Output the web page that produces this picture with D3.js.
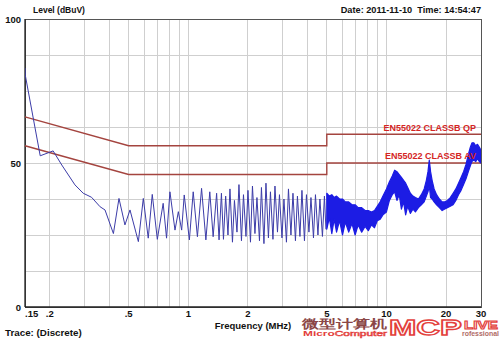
<!DOCTYPE html>
<html>
<head>
<meta charset="utf-8">
<script src="https://cdn.jsdelivr.net/npm/d3@7"></script>
<style>
  html, body { margin: 0; padding: 0; background: #fff; }
  svg { display: block; }
  text { font-family: "Liberation Sans", Arial, sans-serif; font-weight: bold; }
</style>
</head>
<body>
<svg id="chart" width="500" height="339"></svg>
<script>
// Axis ticks
const xTickValues = [0.15, 0.2, 0.5, 1, 2, 5, 10, 20, 30];
const xTickLabels = [".15", ".2", ".5", "1", "2", "5", "10", "20", "30"];
const xGridValues = [0.2, 0.3, 0.4, 0.5, 0.6, 0.7, 0.8, 0.9, 1, 2, 3, 4, 5, 6, 7, 8, 9, 10, 20];
const yTickValues = [0, 50, 100];
const yGridValues = [12.5, 25, 37.5, 50, 62.5, 75, 87.5];

// EN55022 Class B limits (MHz, dBuV)
const limitFreq = [0.15, 0.5, 5, 5, 30];
const qpLevel = [66, 56, 56, 60, 60];
const avLevel = [56, 46, 46, 50, 50];

// Measured trace, 0.15 - 5 MHz (MHz, dBuV)
const traceFreq = [0.150, 0.1505, 0.179, 0.208, 0.230, 0.268, 0.295, 0.325, 0.359, 0.380,
  0.419, 0.447, 0.479, 0.508, 0.560, 0.593, 0.628, 0.658, 0.698, 0.747,
  0.777, 0.808, 0.857, 0.891, 0.926, 0.954, 1.013, 1.059, 1.112, 1.167,
  1.227, 1.284, 1.335, 1.390, 1.430, 1.470, 1.505, 1.544, 1.586, 1.623,
  1.671, 1.710, 1.761, 1.802, 1.855, 1.899, 1.955, 2.001, 2.060, 2.108,
  2.170, 2.221, 2.287, 2.340, 2.409, 2.466, 2.538, 2.598, 2.675, 2.738,
  2.819, 2.885, 2.970, 3.039, 3.129, 3.203, 3.297, 3.375, 3.474, 3.555,
  3.660, 3.746, 3.857, 3.948, 4.064, 4.160, 4.283, 4.383, 4.512, 4.617,
  4.754, 4.865, 4.950];
const traceLevel = [83, 80.5, 52.5, 54.2, 49.3, 42.4, 39.5, 38.1, 34.8, 33.7,
  25.5, 37.7, 28.5, 33.7, 22.7, 37.7, 23.9, 39.1, 23.5, 36.0,
  23.9, 40.0, 26.7, 33.1, 26.7, 38.9, 23.3, 40.0, 24.4, 41.2,
  23.3, 40.0, 24.4, 39.5, 23.3, 39.5, 23.5, 38.5, 25, 41,
  22.5, 37, 26, 42.5, 23, 39, 24.5, 40.5, 22.5, 42,
  25.5, 38, 23, 41.5, 22, 43, 24, 40, 23.5, 42,
  26, 39, 24, 37.5, 22.5, 41, 25, 39.5, 23, 38.5,
  24.5, 40.5, 23, 39, 26, 38, 24, 39, 25, 37.5,
  24.5, 38.5, 27];

// Dense trace, 5 - 30 MHz: upper and lower extent of the sweep (MHz, dBuV)
const bandFreq = [5.0, 5.15, 5.3, 5.45, 5.6, 5.8, 6.0, 6.2, 6.45, 6.7,
  6.95, 7.2, 7.5, 7.8, 8.1, 8.4, 8.7, 9.0, 9.3, 9.6,
  10.0, 10.35, 10.7, 11.0, 11.3, 11.6, 11.9, 12.2, 12.5, 12.8,
  13.2, 13.6, 14.0, 14.5, 15.0, 15.5, 15.9, 16.2, 16.45, 16.7,
  17.0, 17.4, 17.9, 18.5, 19.1, 19.7, 20.3, 21.0, 21.7, 22.4,
  23.1, 23.8, 24.5, 25.2, 25.9, 26.5, 27.0, 27.6, 28.2, 28.8,
  29.4, 30];
const bandTop = [39.5, 38.5, 39, 38, 38.5, 37.5, 37.5, 36.5, 36.5, 35.5,
  35.5, 34.5, 34.5, 33.5, 33.5, 33, 33.5, 35, 36.5, 38.5,
  41, 43.5, 45.5, 47.5, 47, 46, 45, 44, 43, 41.5,
  39.5, 38.5, 38, 37.5, 39, 41, 44, 47, 51, 47,
  44, 41, 39, 37.5, 36.5, 36.5, 37, 38, 39.5, 41,
  43, 45, 47, 49.5, 53, 55.5, 57, 57, 56, 56.5,
  55.5, 54.5];
const bandBottom = [27, 31, 25.5, 30.5, 26, 30, 25, 29.5, 26, 29,
  25, 28.5, 26, 28, 26.5, 28.5, 27.5, 30, 30.5, 32,
  33, 37, 39, 40, 37, 39, 34, 36.5, 32, 35,
  32.5, 34, 33, 34.5, 35.5, 36.5, 38.5, 40, 42, 38,
  37.5, 36.5, 35.5, 34.5, 33.5, 34, 34.5, 35, 35.5, 37,
  39, 40.5, 42.5, 44.5, 47, 49, 50.5, 51, 50.5, 51.5,
  50.5, 50];

const svg = d3.select("#chart");
const plotLeft = 25, plotRight = 481, plotTop = 19, plotBottom = 307;

const x = d3.scaleLog().domain([0.15, 30]).range([plotLeft, plotRight]);
const y = d3.scaleLinear().domain([0, 100]).range([plotBottom, plotTop]);

// Grid
svg.append("g").selectAll("line").data(xGridValues).join("line")
  .attr("x1", d => x(d)).attr("x2", d => x(d))
  .attr("y1", plotTop).attr("y2", plotBottom)
  .attr("stroke", "#cfcfcf").attr("stroke-width", 1)
  .attr("shape-rendering", "crispEdges");
svg.append("g").selectAll("line").data(yGridValues).join("line")
  .attr("x1", plotLeft).attr("x2", plotRight)
  .attr("y1", d => y(d)).attr("y2", d => y(d))
  .attr("stroke", "#cfcfcf").attr("stroke-width", 1)
  .attr("shape-rendering", "crispEdges");

// Frame
svg.append("rect")
  .attr("x", plotLeft).attr("y", plotTop)
  .attr("width", plotRight - plotLeft).attr("height", plotBottom - plotTop)
  .attr("fill", "none").attr("stroke", "#555").attr("stroke-width", 1)
  .attr("shape-rendering", "crispEdges");
svg.append("line").attr("x1", plotLeft).attr("x2", plotLeft).attr("y1", plotTop).attr("y2", plotBottom)
  .attr("stroke", "#222").attr("stroke-width", 1.3);
svg.append("line").attr("x1", plotLeft).attr("x2", plotRight).attr("y1", plotBottom).attr("y2", plotBottom)
  .attr("stroke", "#222").attr("stroke-width", 1.3);

// Limit lines
const limitLine = d3.line().x(d => x(d[0])).y(d => y(d[1]));
[qpLevel, avLevel].forEach(levels => {
  svg.append("path")
    .attr("d", limitLine(limitFreq.map((f, i) => [f, levels[i]])))
    .attr("fill", "none").attr("stroke", "#a4443f").attr("stroke-width", 1.4);
});

// Trace
svg.append("clipPath").attr("id", "plot-clip")
  .append("rect").attr("x", plotLeft).attr("y", plotTop)
  .attr("width", plotRight - plotLeft).attr("height", plotBottom - plotTop);

const traceLine = d3.line().x(d => x(d[0])).y(d => y(d[1]));
svg.append("path")
  .attr("clip-path", "url(#plot-clip)")
  .attr("d", traceLine(traceFreq.map((f, i) => [f, traceLevel[i]])))
  .attr("fill", "none").attr("stroke", "#3c3ca8").attr("stroke-width", 1);

const bandArea = d3.area()
  .x(d => x(d[0])).y0(d => y(d[2])).y1(d => y(d[1]));
const bandData = bandFreq.map((f, i) => [f, bandTop[i], bandBottom[i]]);
svg.append("path")
  .attr("clip-path", "url(#plot-clip)")
  .attr("d", bandArea(bandData))
  .attr("fill", "#1c1ce4").attr("stroke", "#1c1ce4").attr("stroke-width", 1.2)
  .attr("stroke-linejoin", "round");

// Limit labels
svg.append("text").attr("x", 476).attr("y", 131).attr("text-anchor", "end")
  .attr("font-size", 9).attr("fill", "#d42424").text("EN55022 CLASSB QP");
svg.append("text").attr("x", 476).attr("y", 159).attr("text-anchor", "end")
  .attr("font-size", 9).attr("fill", "#d42424").text("EN55022 CLASSB AV");

// Axis labels
svg.append("g").selectAll("text").data(yTickValues).join("text")
  .attr("x", 21).attr("y", d => y(d) + 3.5)
  .attr("text-anchor", "end").attr("font-size", 9.5).attr("fill", "#111")
  .text(d => d);
svg.append("g").selectAll("text").data(xTickValues).join("text")
  .attr("x", (d, i) => i === 0 ? plotLeft : x(d))
  .attr("y", 317)
  .attr("text-anchor", (d, i) => i === 0 ? "start" : "middle")
  .attr("font-size", 9.5).attr("fill", "#111")
  .text((d, i) => xTickLabels[i]);

svg.append("text").attr("x", 33).attr("y", 13).attr("font-size", 8.5).attr("fill", "#111")
  .text("Level (dBuV)");
svg.append("text").attr("x", 481).attr("y", 13).attr("text-anchor", "end")
  .attr("font-size", 9.2).attr("fill", "#111")
  .attr("xml:space", "preserve").text("Date: 2011-11-10  Time: 14:54:47");
svg.append("text").attr("x", 253).attr("y", 329).attr("text-anchor", "middle")
  .attr("font-size", 9.5).attr("fill", "#111").text("Frequency (MHz)");
svg.append("text").attr("x", 5).attr("y", 336)
  .attr("font-size", 9.8).attr("fill", "#111").text("Trace: (Discrete)");

// Publisher mark
const mark = svg.append("g");
mark.append("text").attr("x", 302).attr("y", 327.5)
  .attr("font-family", "Noto Sans CJK SC").attr("font-size", 11.5)
  .attr("textLength", 85).attr("lengthAdjust", "spacingAndGlyphs")
  .attr("fill", "#8a4646").text("微型计算机");
const mc = mark.append("text").attr("x", 303).attr("y", 336)
  .attr("font-size", 8).attr("textLength", 84).attr("lengthAdjust", "spacingAndGlyphs");
mc.append("tspan").attr("fill", "#e3403c").text("Micro");
mc.append("tspan").attr("fill", "none").attr("stroke", "#e3403c").attr("stroke-width", 0.6)
  .attr("font-weight", "normal").text("Computer");
mark.append("text").attr("x", 389).attr("y", 335)
  .attr("font-size", 22).attr("font-weight", "normal")
  .attr("textLength", 73).attr("lengthAdjust", "spacingAndGlyphs")
  .attr("fill", "none").attr("stroke", "#e3403c").attr("stroke-width", 1.3)
  .text("MCP");
mark.append("text").attr("x", 464).attr("y", 329)
  .attr("font-size", 11).attr("font-weight", "normal")
  .attr("textLength", 34).attr("lengthAdjust", "spacingAndGlyphs")
  .attr("fill", "none").attr("stroke", "#e3403c").attr("stroke-width", 0.9)
  .text("LIVE");
mark.append("text").attr("x", 462).attr("y", 336)
  .attr("font-size", 7).attr("font-weight", "normal")
  .attr("textLength", 37).attr("lengthAdjust", "spacingAndGlyphs")
  .attr("fill", "#b06a66").text("rofessional");
</script>
</body>
</html>
